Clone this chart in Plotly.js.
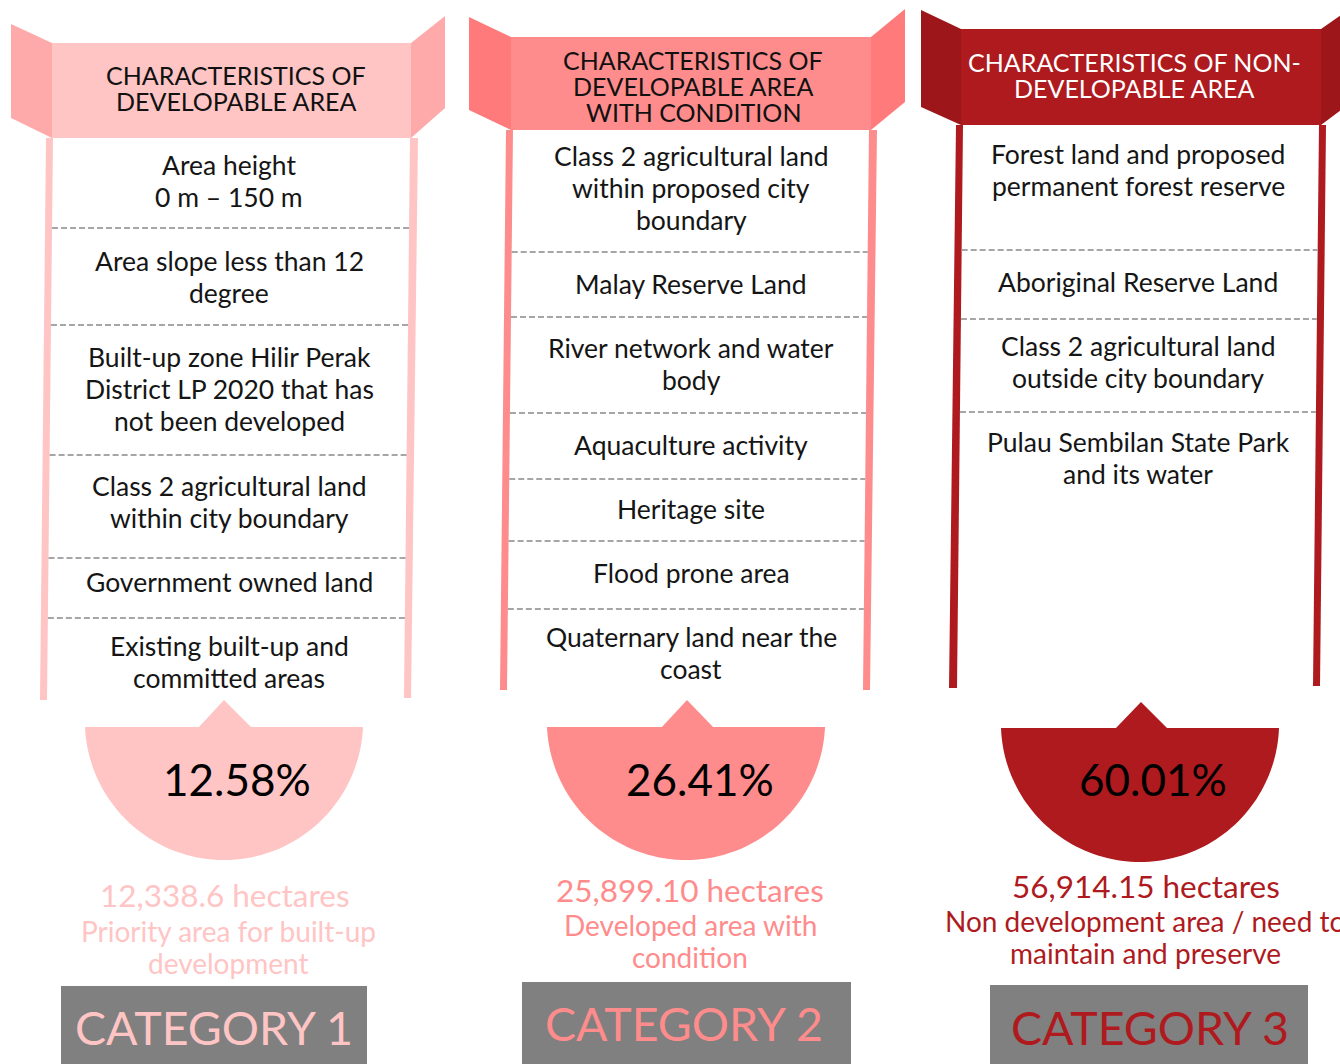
<!DOCTYPE html>
<html>
<head>
<meta charset="utf-8">
<script src="https://cdn.plot.ly/plotly-3.0.1.min.js"></script>
<style>html,body{margin:0;padding:0;background:#fff;}#chart{width:1340px;height:1064px;}</style>
</head>
<body>
<div id="chart"></div>
<script>
// ---------- DATA ----------
const categories = ['CATEGORY 1', 'CATEGORY 2', 'CATEGORY 3'];
const headerTitles = [
  'CHARACTERISTICS OF\nDEVELOPABLE AREA',
  'CHARACTERISTICS OF\nDEVELOPABLE AREA\nWITH CONDITION',
  'CHARACTERISTICS OF NON-\nDEVELOPABLE AREA'
];
const sharePercent = [12.58, 26.41, 60.01];
const hectareLabels = ['12,338.6', '25,899.10', '56,914.15'];
const descriptions = [
  'Priority area for built-up\ndevelopment',
  'Developed area with\ncondition',
  'Non development area / need to\nmaintain and preserve'
];
const characteristicsCat1 = [
  'Area height\n0 m – 150 m',
  'Area slope less than 12\ndegree',
  'Built-up zone Hilir Perak\nDistrict LP 2020 that has\nnot been developed',
  'Class 2 agricultural land\nwithin city boundary',
  'Government owned land',
  'Existing built-up and\ncommitted areas'
];
const characteristicsCat2 = [
  'Class 2 agricultural land\nwithin proposed city\nboundary',
  'Malay Reserve Land',
  'River network and water\nbody',
  'Aquaculture activity',
  'Heritage site',
  'Flood prone area',
  'Quaternary land near the\ncoast'
];
const characteristicsCat3 = [
  'Forest land and proposed\npermanent forest reserve',
  'Aboriginal Reserve Land',
  'Class 2 agricultural land\noutside city boundary',
  'Pulau Sembilan State Park\nand its water'
];
const characteristics = [characteristicsCat1, characteristicsCat2, characteristicsCat3];

// ---------- LAYOUT / STYLE (geometry in axis units) ----------
const FONT = 'Lato, "Noto Sans", sans-serif';
const panels = [
  {
    main: '#FFC5C5', flap: '#FFAAAA', headText: '#111111',
    leftFlap: [[11,24],[52,43],[52,138],[11,118]],
    banner: [52,43,411,138],
    rightFlap: [[411,43],[445,16],[445,108],[411,138]],
    leftPole: [[46,138],[53,138],[47,700],[40,700]],
    rightPole: [[410,138],[418,138],[411,698],[404,698]],
    headX: 236, headY: 75,
    dividers: [228, 325, 455, 558, 618],
    itemY: [181, 277, 389, 502, 582, 662],
    itemX: 229,
    semi: {cx: 224, top: 727, bottom: 860, half: 139},
    tri: {x0: 198, x1: 252, apexX: 224, apexY: 700},
    pctX: 237, pctY: 779,
    hectX: 225, hectY: 895, descX: 228, descY: 931,
    box: [61,986,367,1064], catX: 214, catY: 1027
  },
  {
    main: '#FF8C8C', flap: '#FF7B7B', headText: '#111111',
    leftFlap: [[469,17],[511,37],[511,130],[469,110]],
    banner: [511,37,871,130],
    rightFlap: [[871,37],[905,9],[905,102],[871,130]],
    leftPole: [[506,130],[513,130],[507,690],[500,690]],
    rightPole: [[869,130],[877,130],[870,690],[863,690]],
    headX: 693, headY: 60,
    dividers: [252, 317, 413, 479, 541, 609],
    itemY: [188, 284, 364, 445, 509, 573, 653],
    itemX: 691,
    semi: {cx: 686, top: 727, bottom: 860, half: 139},
    tri: {x0: 661, x1: 714, apexX: 687, apexY: 700},
    pctX: 700, pctY: 779,
    hectX: 690, hectY: 890, descX: 690, descY: 925,
    box: [522,982,851,1064], catX: 684, catY: 1023
  },
  {
    main: '#AE1A1E', flap: '#9C161A', headText: '#FFFFFF',
    leftFlap: [[921,10],[961,29],[961,125],[921,107]],
    banner: [961,29,1321,125],
    rightFlap: [[1321,29],[1360,2],[1360,96],[1321,125]],
    leftPole: [[956,125],[963,125],[957,688],[949,688]],
    rightPole: [[1319,125],[1326,125],[1320,686],[1313,686]],
    headX: 1134, headY: 62,
    dividers: [250, 319, 412],
    itemY: [170, 282, 362, 458],
    itemX: 1138,
    semi: {cx: 1140, top: 728, bottom: 862, half: 139},
    tri: {x0: 1115, x1: 1168, apexX: 1141, apexY: 702},
    pctX: 1153, pctY: 779,
    hectX: 1146, hectY: 886, descX: 1145, descY: 921,
    box: [990,985,1308,1064], catX: 1150, catY: 1027
  }
];

function poly(pts) {
  return 'M ' + pts.map(p => p[0] + ',' + p[1]).join(' L ') + ' Z';
}
function interpX(pole, y, side) {
  const t = (y - pole[0][1]) / (pole[2][1] - pole[0][1]);
  const l = pole[0][0] + t * (pole[3][0] - pole[0][0]);
  const r = pole[1][0] + t * (pole[2][0] - pole[1][0]);
  return side === 'right' ? r : l;
}

const shapes = [];
const annotations = [];
function addText(x, y, text, size, color) {
  annotations.push({
    x: x, y: y, xref: 'x', yref: 'y', text: text, showarrow: false,
    xanchor: 'center', yanchor: 'middle', borderpad: 0,
    font: {family: FONT, size: size, color: color}
  });
}

panels.forEach((p, i) => {
  shapes.push({type: 'path', xref: 'x', yref: 'y', path: poly(p.leftFlap), fillcolor: p.flap, line: {width: 0}, layer: 'below'});
  shapes.push({type: 'path', xref: 'x', yref: 'y', path: poly(p.rightFlap), fillcolor: p.flap, line: {width: 0}, layer: 'below'});
  shapes.push({type: 'rect', xref: 'x', yref: 'y', x0: p.banner[0], y0: p.banner[1], x1: p.banner[2], y1: p.banner[3], fillcolor: p.main, line: {width: 0}, layer: 'below'});
  shapes.push({type: 'path', xref: 'x', yref: 'y', path: poly(p.leftPole), fillcolor: p.main, line: {width: 0}, layer: 'below'});
  shapes.push({type: 'path', xref: 'x', yref: 'y', path: poly(p.rightPole), fillcolor: p.main, line: {width: 0}, layer: 'below'});
  p.dividers.forEach(y => {
    shapes.push({type: 'line', xref: 'x', yref: 'y',
      x0: interpX(p.leftPole, y, 'right'), x1: interpX(p.rightPole, y, 'left'), y0: y, y1: y,
      line: {color: '#A6A6A6', width: 2, dash: '6px,3px'}, layer: 'below'});
  });
  const s = p.semi;
  const depth = s.bottom - s.top;
  const r = (s.half * s.half + depth * depth) / (2 * depth);
  const cy = s.bottom - r;
  const a0 = Math.asin((s.top - cy) / r);
  const pts = [];
  const N = 90;
  for (let k = 0; k <= N; k++) {
    const a = a0 + (Math.PI - 2 * a0) * k / N;
    pts.push([+(s.cx + r * Math.cos(a)).toFixed(2), +(cy + r * Math.sin(a)).toFixed(2)]);
  }
  shapes.push({type: 'path', xref: 'x', yref: 'y', path: poly(pts), fillcolor: p.main, line: {width: 0}, layer: 'below'});
  shapes.push({type: 'path', xref: 'x', yref: 'y',
    path: poly([[p.tri.x0, s.top + 1], [p.tri.apexX, p.tri.apexY], [p.tri.x1, s.top + 1]]),
    fillcolor: p.main, line: {width: 0}, layer: 'below'});
  shapes.push({type: 'rect', xref: 'x', yref: 'y', x0: p.box[0], y0: p.box[1], x1: p.box[2], y1: p.box[3], fillcolor: '#808080', line: {width: 0}, layer: 'below'});

  headerTitles[i].split('\n').forEach((ln, j) => addText(p.headX, p.headY + j * 26, ln, 25, p.headText));
  characteristics[i].forEach((item, k) => {
    const lines = item.split('\n');
    const y0 = p.itemY[k] - (lines.length - 1) * 16;
    lines.forEach((ln, j) => addText(p.itemX, y0 + j * 32, ln, 26.5, '#151515'));
  });
  addText(p.pctX, p.pctY, sharePercent[i].toFixed(2) + '%', 44, '#000000');
  addText(p.hectX, p.hectY, hectareLabels[i] + ' hectares', 31.5, p.main);
  descriptions[i].split('\n').forEach((ln, j) => addText(p.descX, p.descY + j * 32, ln, 28, p.main));
  addText(p.catX, p.catY, categories[i], 46.5, p.main);
});

const layout = {
  width: 1340, height: 1064,
  margin: {l: 0, r: 0, t: 0, b: 0, pad: 0},
  paper_bgcolor: '#FFFFFF', plot_bgcolor: '#FFFFFF',
  showlegend: false,
  xaxis: {range: [0, 1340], visible: false, fixedrange: true},
  yaxis: {range: [1064, 0], visible: false, fixedrange: true},
  shapes: shapes,
  annotations: annotations
};
Plotly.newPlot('chart', [{x: [], y: [], type: 'scatter', mode: 'markers', hoverinfo: 'skip'}], layout, {displayModeBar: false, staticPlot: true});
</script>
</body>
</html>
